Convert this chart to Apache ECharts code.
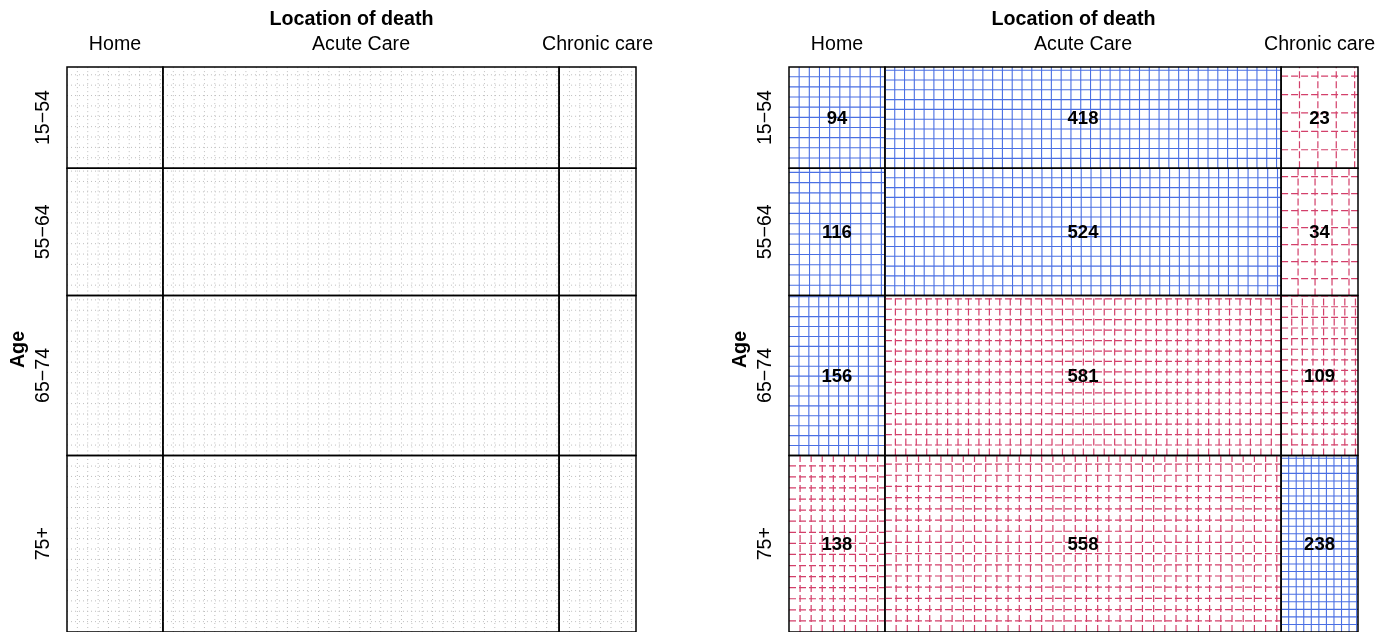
<!DOCTYPE html>
<html>
<head>
<meta charset="utf-8">
<script src="https://cdn.jsdelivr.net/npm/echarts@6/dist/echarts.min.js"></script>
<style>
  html, body { margin: 0; padding: 0; background: #fff; }
  #chart { width: 1387px; height: 632px; }
</style>
</head>
<body>
<div id="chart"></div>
<script>
// Deaths by age group and location of death (counts)
const ageGroups = ['15\u221254', '55\u221264', '65\u221274', '75+'];
const locations = ['Home', 'Acute Care', 'Chronic care'];
const homeDeaths    = [94, 116, 156, 138];
const acuteDeaths   = [418, 524, 581, 558];
const chronicDeaths = [23, 34, 109, 238];

const counts = ageGroups.map((_, i) => [homeDeaths[i], acuteDeaths[i], chronicDeaths[i]]);
const rowTotals = counts.map(r => r.reduce((a, b) => a + b, 0));
const colTotals = locations.map((_, j) => counts.reduce((a, r) => a + r[j], 0));
const total = rowTotals.reduce((a, b) => a + b, 0);

function cumulative(arr) {
  const out = [0];
  arr.forEach(v => out.push(out[out.length - 1] + v));
  return out;
}
const colEdges = cumulative(colTotals);
const rowEdges = cumulative(rowTotals);
const colMids = locations.map((_, j) => (colEdges[j] + colEdges[j + 1]) / 2);
const rowMids = ageGroups.map((_, i) => (rowEdges[i] + rowEdges[i + 1]) / 2);

// cells: [xStart, xEnd, yStart, yEnd, count, residualSign]
const expectedCells = [];
const observedCells = [];
ageGroups.forEach((_, i) => {
  locations.forEach((_, j) => {
    const e = rowTotals[i] * colTotals[j] / total;
    const o = counts[i][j];
    expectedCells.push([colEdges[j], colEdges[j + 1], rowEdges[i], rowEdges[i + 1], e, 0]);
    observedCells.push([colEdges[j], colEdges[j + 1], rowEdges[i], rowEdges[i + 1], o, o >= e ? 1 : -1]);
  });
});

const FONT = '"Liberation Sans", Arial, Helvetica, sans-serif';
const BLUE = '#4A6FE3';
const RED = '#D33F6A';

function nearestLabel(value, mids, names) {
  let best = 0;
  mids.forEach((m, k) => { if (Math.abs(m - value) < Math.abs(mids[best] - value)) best = k; });
  return names[best];
}

function sieveRenderer(showCounts) {
  return function (params, api) {
    const x0 = api.value(0), x1 = api.value(1), y0 = api.value(2), y1 = api.value(3);
    const n = api.value(4), sign = api.value(5);
    const pA = api.coord([x0, y0]);
    const pB = api.coord([x1, y1]);
    const left = pA[0], top = pA[1], right = pB[0], bottom = pB[1];
    const w = right - left, h = bottom - top;
    const side = Math.sqrt(w * h / n);
    let style;
    if (sign === 0) {
      style = { stroke: '#BEBEBE', lineWidth: 1, lineDash: [1, 3] };
    } else if (sign > 0) {
      style = { stroke: BLUE, lineWidth: 1.1 };
    } else {
      style = { stroke: RED, lineWidth: 1.2, lineDash: [7, 3] };
    }
    const children = [];
    for (let k = 1; left + k * side < right - 0.5; k++) {
      const x = left + k * side;
      children.push({ type: 'line', shape: { x1: x, y1: bottom, x2: x, y2: top }, style: style });
    }
    for (let k = 1; bottom - k * side > top + 0.5; k++) {
      const y = bottom - k * side;
      children.push({ type: 'line', shape: { x1: left, y1: y, x2: right, y2: y }, style: style });
    }
    children.push({
      type: 'rect',
      shape: { x: left, y: top, width: w, height: h },
      style: { fill: null, stroke: '#000', lineWidth: 1.5 }
    });
    if (showCounts) {
      children.push({
        type: 'text',
        x: (left + right) / 2,
        y: (top + bottom) / 2 + 1,
        style: {
          text: String(n),
          fontFamily: FONT, fontSize: 18.5, fontWeight: 'bold',
          fill: '#000', align: 'center', verticalAlign: 'middle'
        }
      });
    }
    return { type: 'group', children: children };
  };
}

function makeX(gridIndex) {
  return {
    type: 'value', gridIndex: gridIndex, position: 'top', min: 0, max: total,
    name: 'Location of death', nameLocation: 'middle', nameGap: 37,
    nameTextStyle: { fontFamily: FONT, fontSize: 19.7, fontWeight: 'bold', color: '#000' },
    axisLine: { show: false }, axisTick: { show: false }, splitLine: { show: false },
    axisLabel: {
      customValues: colMids, margin: 12,
      fontFamily: FONT, fontSize: 19.6, color: '#000',
      formatter: v => nearestLabel(v, colMids, locations)
    }
  };
}
function makeY(gridIndex) {
  return {
    type: 'value', gridIndex: gridIndex, inverse: true, min: 0, max: total,
    name: 'Age', nameLocation: 'middle', nameGap: 38,
    nameTextStyle: { fontFamily: FONT, fontSize: 19.7, fontWeight: 'bold', color: '#000' },
    axisLine: { show: false }, axisTick: { show: false }, splitLine: { show: false },
    axisLabel: {
      customValues: rowMids, margin: 13, rotate: 90,
      fontFamily: FONT, fontSize: 19.6, color: '#000',
      formatter: v => nearestLabel(v, rowMids, ageGroups)
    }
  };
}

const chart = echarts.init(document.getElementById('chart'), null, { renderer: 'canvas' });
chart.setOption({
  animation: false,
  backgroundColor: '#fff',
  grid: [
    { left: 67, top: 67, width: 569, height: 569 },
    { left: 789, top: 67, width: 569, height: 569 }
  ],
  xAxis: [makeX(0), makeX(1)],
  yAxis: [makeY(0), makeY(1)],
  series: [
    {
      type: 'custom', name: 'expected', xAxisIndex: 0, yAxisIndex: 0,
      renderItem: sieveRenderer(false), data: expectedCells, silent: true
    },
    {
      type: 'custom', name: 'observed', xAxisIndex: 1, yAxisIndex: 1,
      renderItem: sieveRenderer(true), data: observedCells, silent: true
    }
  ]
});
</script>
</body>
</html>
